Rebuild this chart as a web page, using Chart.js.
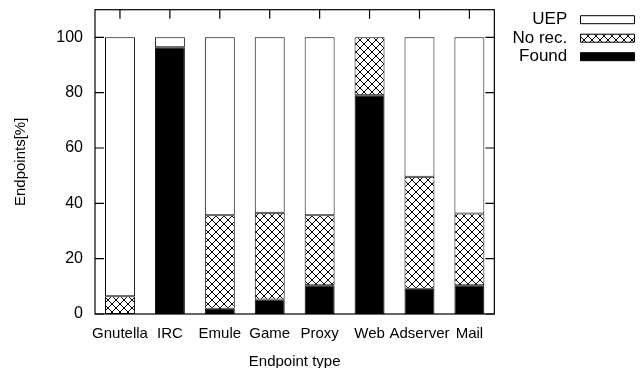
<!DOCTYPE html>
<html><head><meta charset="utf-8">
<script src="https://cdn.jsdelivr.net/npm/chart.js@4/dist/chart.umd.min.js"></script>
<style>html,body{margin:0;padding:0;background:#fff}#wrap{width:641px;height:368px}</style>
</head><body><div id="wrap"><canvas id="c" width="641" height="368"></canvas></div>
<script>
const categories = ['Gnutella','IRC','Emule','Game','Proxy','Web','Adserver','Mail'];
const found = [0, 96.4, 1.9, 5.2, 10.4, 79.1, 9.1, 10.4];
const noRec = [6.4, 0, 33.8, 31.4, 25.3, 20.9, 40.5, 25.9];
const uep   = [93.6, 3.6, 64.3, 63.4, 64.3, 0, 50.4, 63.7];
const yTicks = [0, 20, 40, 60, 80, 100];

function hatch(){
  const p = document.createElement('canvas'); p.width = 8; p.height = 8;
  const g = p.getContext('2d');
  g.fillStyle = '#fff'; g.fillRect(0,0,8,8);
  g.strokeStyle = '#000'; g.lineWidth = 1;
  g.beginPath(); g.moveTo(0,0); g.lineTo(8,8); g.moveTo(0,8); g.lineTo(8,0); g.stroke();
  return document.getElementById('c').getContext('2d').createPattern(p,'repeat');
}

const FONT = 'Liberation Sans, Arial, Helvetica, sans-serif';

const frame = {
  id: 'frame',
  beforeDatasetsDraw(chart){
    const {ctx, chartArea:a, scales:{x,y}} = chart;
    ctx.save(); ctx.strokeStyle='#000'; ctx.lineWidth=1.2; ctx.beginPath();
    yTicks.forEach(v=>{ const py=y.getPixelForValue(v);
      ctx.moveTo(a.left,py); ctx.lineTo(a.left+9,py);
      ctx.moveTo(a.right,py); ctx.lineTo(a.right-9,py); });
    categories.forEach((c,i)=>{ const px=x.getPixelForValue(i);
      ctx.moveTo(px,a.top); ctx.lineTo(px,a.top+9);
      ctx.moveTo(px,a.bottom); ctx.lineTo(px,a.bottom-9); });
    ctx.stroke(); ctx.restore();
  },
  afterDatasetsDraw(chart){
    const {ctx, chartArea:a} = chart;
    ctx.save(); ctx.strokeStyle='#000'; ctx.lineWidth=1.2;
    ctx.strokeRect(a.left,a.top,a.right-a.left,a.bottom-a.top); ctx.restore();
  }
};

new Chart(document.getElementById('c'), {
  type: 'bar',
  data: {
    labels: categories,
    datasets: [
      {label:'Found', data: found, backgroundColor:'#000'},
      {label:'No rec.', data: noRec, backgroundColor: hatch()},
      {label:'UEP', data: uep, backgroundColor:'#fff'}
    ]
  },
  options: {
    responsive: false, animation: false,
    layout: {padding: {top: 1, right: 5, left: 0, bottom: 0}},
    datasets: {bar: {borderColor:'#000', borderWidth:1, borderSkipped:false, categoryPercentage:1, barPercentage:0.6}},
    plugins: {
      tooltip: {enabled:false},
      legend: {
        position:'right', align:'start', rtl:true, reverse:true,
        title: {display:true, text:'', padding:0, font:{size:6, lineHeight:1.45}},
        labels: {boxWidth:54, boxHeight:8, padding:1.5, color:'#000', font:{family:FONT, size:17},
          generateLabels(chart){
            const items = Chart.defaults.plugins.legend.labels.generateLabels(chart);
            items.forEach(it=>{ it.text = ' \u2009' + it.text + ' '; it.strokeStyle='#000'; it.lineWidth=1; });
            return items;
          }}
      }
    },
    scales: {
      x: {stacked:true, offset:true,
        grid:{display:false, drawTicks:false}, border:{display:false},
        ticks:{color:'#000', font:{family:FONT, size:15}, padding:11, maxRotation:0, autoSkip:false},
        title:{display:true, text:'Endpoint type', color:'#000', font:{family:FONT, size:15, lineHeight:1}, padding:{top:0,bottom:-1}},
        afterFit(s){ s.height = 54; }
      },
      y: {stacked:true, min:0, max:110,
        grid:{display:false, drawTicks:false}, border:{display:false},
        ticks:{color:'#000', font:{family:FONT, size:16}, padding:12, stepSize:20},
        afterBuildTicks(s){ s.ticks = yTicks.map(v=>({value:v})); },
        title:{display:true, text:'Endpoints[%]', color:'#000', font:{family:FONT, size:15}, padding:{top:12,bottom:0}},
        afterFit(s){ s.width = 95; s.paddingTop = 9.7; s.paddingBottom = 0; }
      }
    }
  },
  plugins: [frame]
});
</script></body></html>
